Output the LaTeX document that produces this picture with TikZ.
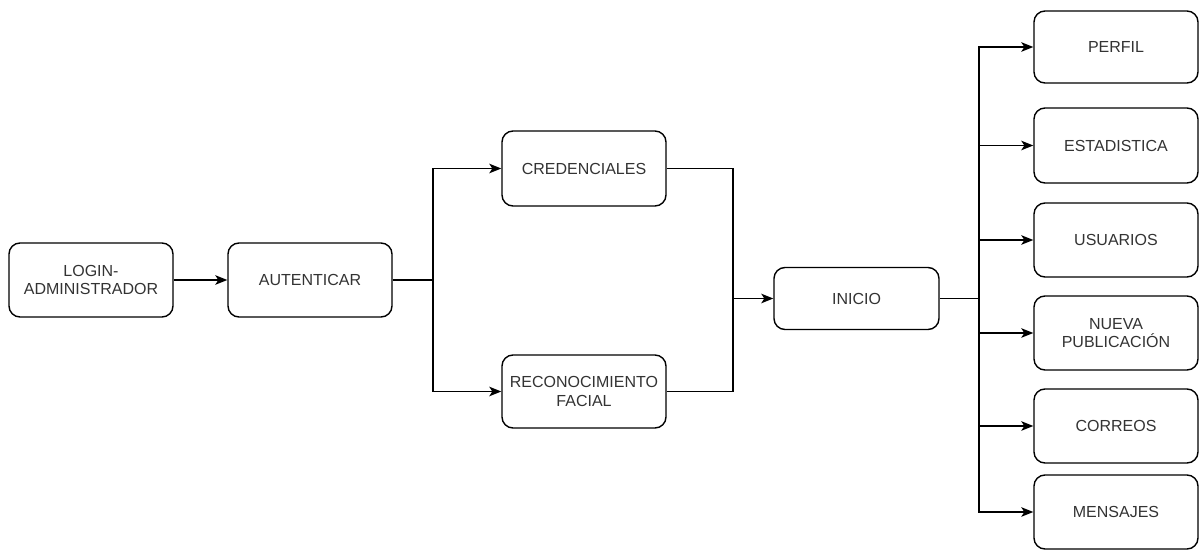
\documentclass[tikz,border=0pt]{standalone}
\usepackage{fontspec}
\setmainfont{Liberation Sans}
\usetikzlibrary{arrows.meta}
\begin{document}
\begin{tikzpicture}[x=1pt,y=-1pt,
  box/.style={draw=black, line width=1.4pt, rounded corners=11pt, fill=white,
    minimum width=164pt, minimum height=74pt, align=center, inner sep=2pt,
    font=\fontsize{16pt}{18.5pt}\selectfont, text=black!80},
  link/.style={draw=black, line width=1.4pt},
  arr/.style={link, -{Stealth[length=12pt,width=9.5pt,inset=3pt]}}]
\useasboundingbox (0,0) rectangle (1200,551);

% main chain
\node[box] (login) at (91,280) {LOGIN-\\ADMINISTRADOR};
\node[box] (auth) at (310,280) {AUTENTICAR};
\node[box, minimum height=75pt] (cred) at (584,168.5) {CREDENCIALES};
\node[box, minimum height=73pt] (reco) at (584,391.5) {RECONOCIMIENTO\\FACIAL};
\node[box, minimum width=165pt, minimum height=62pt] (inicio) at (856.5,298.5) {INICIO};

% menu entries
\node[box, minimum height=72pt] (perfil) at (1116,47) {PERFIL};
\node[box, minimum height=75pt] (estad) at (1116,145.5) {ESTADISTICA};
\node[box] (usuarios) at (1116,240) {USUARIOS};
\node[box] (nueva) at (1116,333) {NUEVA\\PUBLICACIÓN};
\node[box] (correos) at (1116,426) {CORREOS};
\node[box] (mensajes) at (1116,512) {MENSAJES};

% junction points
\coordinate (split) at (433,280);
\coordinate (merge) at (733,298.5);
\coordinate (bus) at (979,298.5);

\draw[arr] (login.east) -- (auth.west);
\draw[link] (auth.east) -- (split);
\draw[arr] (split) |- (cred.west);
\draw[arr] (split) |- (reco.west);
\draw[link] (cred.east) -| (merge);
\draw[link] (reco.east) -| (merge);
\draw[arr] (merge) -- (inicio.west);
\draw[link] (inicio.east) -- (bus);
\foreach \t in {perfil,estad,usuarios,nueva,correos,mensajes}
  \draw[arr] (bus) |- (\t.west);
\end{tikzpicture}
\end{document}
